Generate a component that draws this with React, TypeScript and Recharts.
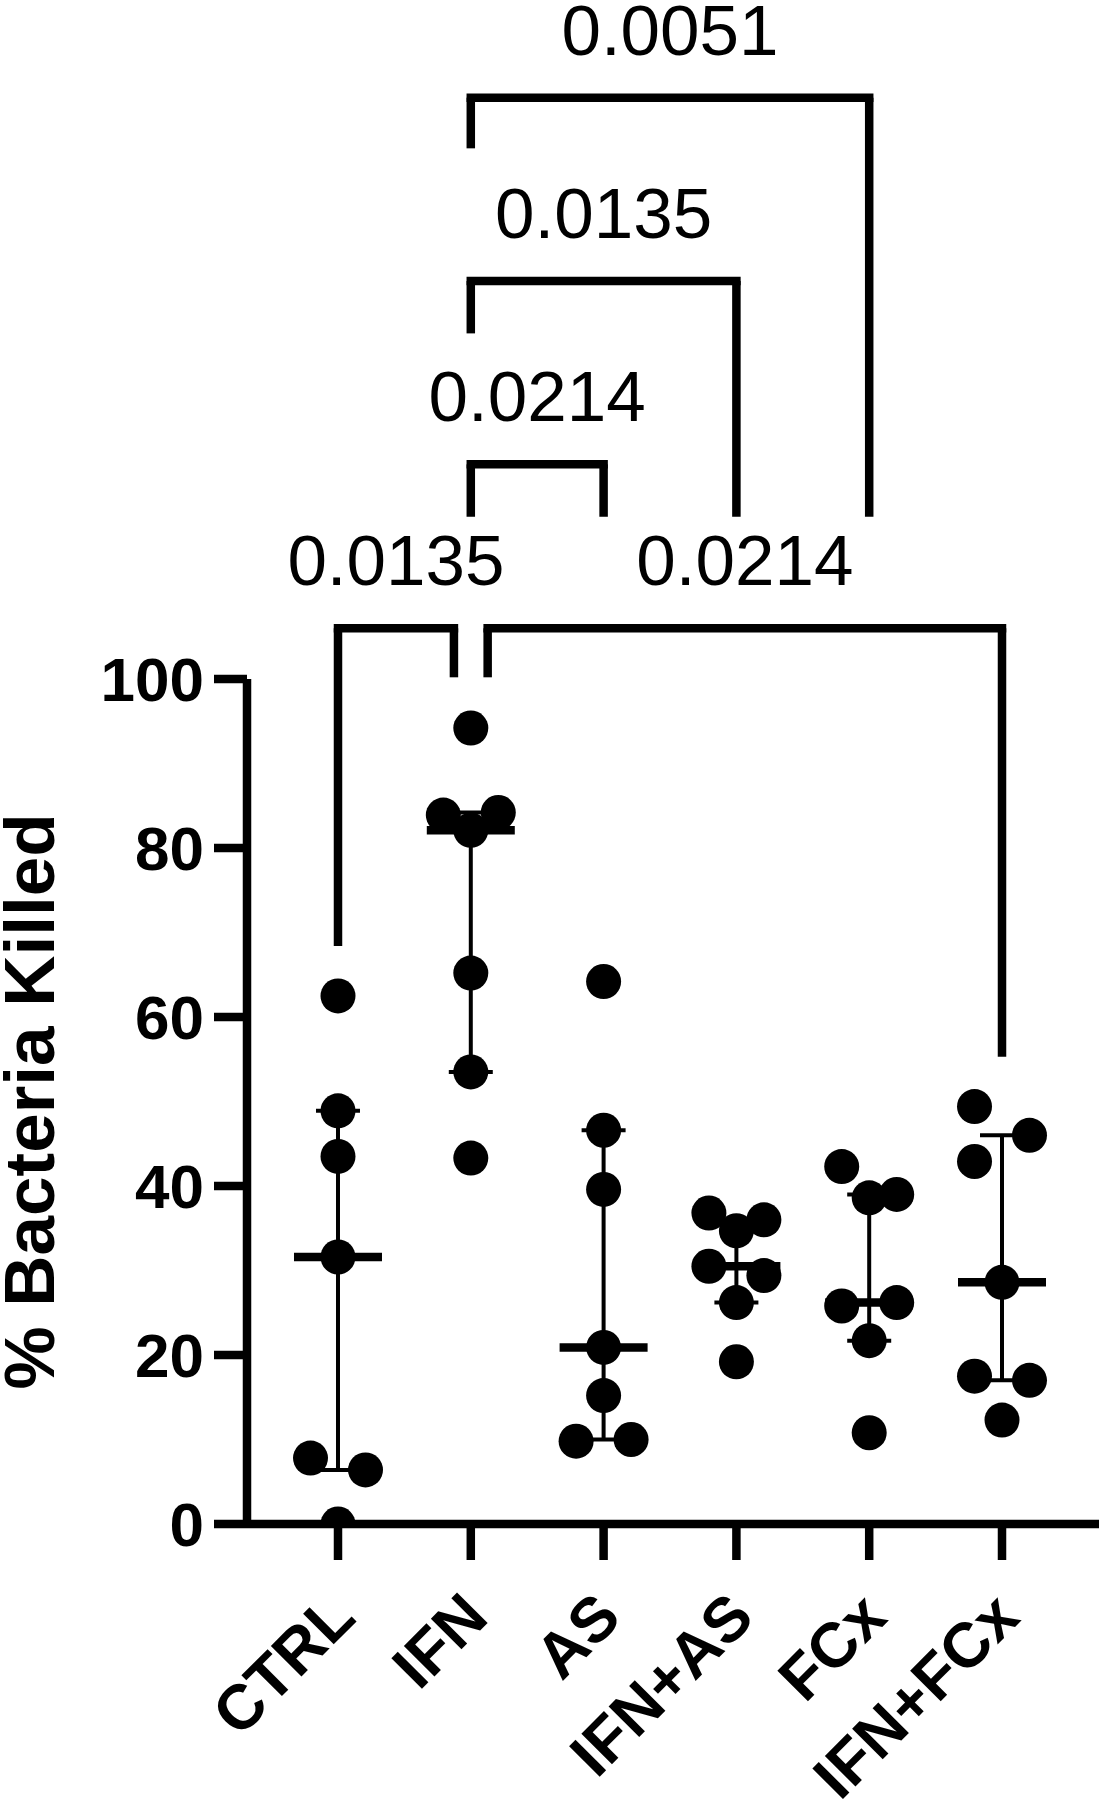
import { ScatterChart, Scatter, XAxis, YAxis, ErrorBar, ReferenceLine } from "recharts";

const FONT = "'Liberation Sans', Arial, sans-serif";

const groups = ["CTRL", "IFN", "AS", "IFN+AS", "FCx", "IFN+FCx"];

// % bacteria killed, one value per replicate
const ctrl = [62.5, 48.9, 43.5, 31.6, 7.8, 6.4, 0];
const ifn = [94.2, 83.9, 84.2, 82.1, 65.2, 53.5, 43.3];
const as = [64.2, 46.6, 39.6, 20.9, 15.2, 9.8, 10.0];
const ifnAs = [36.8, 36.0, 34.7, 30.5, 29.4, 26.2, 19.2];
const fcx = [42.3, 39.0, 38.6, 26.2, 25.8, 21.7, 10.8];
const ifnFcx = [49.4, 46.0, 42.9, 28.6, 17.5, 17.0, 12.3];

// scatter lane of each replicate (-1 left, 0 centre, 1 right)
const ctrlLane = [0, 0, 0, 0, -1, 1, 0];
const ifnLane = [0, -1, 1, 0, 0, 0, 0];
const asLane = [0, 0, 0, 0, 0, -1, 1];
const ifnAsLane = [-1, 1, 0, -1, 1, 0, 0];
const fcxLane = [-1, 1, 0, 1, -1, 0, 0];
const ifnFcxLane = [-1, 1, -1, 0, -1, 1, 0];

const yTicks = [0, 20, 40, 60, 80, 100];

// multiple comparisons: bracket height and leg ends in % units
const comparisons = [
  { from: "CTRL", to: "IFN", p: "0.0135", top: 106.0, fromEnd: 68.4, toEnd: 100.2, fromSide: 0, toSide: -1 },
  { from: "IFN", to: "IFN+FCx", p: "0.0214", top: 106.0, fromEnd: 100.2, toEnd: 55.3, fromSide: 1, toSide: 0 },
  { from: "IFN", to: "AS", p: "0.0214", top: 125.4, fromEnd: 119.2, toEnd: 119.2, fromSide: 0, toSide: 0 },
  { from: "IFN", to: "IFN+AS", p: "0.0135", top: 147.1, fromEnd: 140.9, toEnd: 119.2, fromSide: 0, toSide: 0 },
  { from: "IFN", to: "FCx", p: "0.0051", top: 168.8, fromEnd: 162.8, toEnd: 119.2, fromSide: 0, toSide: 0 },
];

const values = [ctrl, ifn, as, ifnAs, fcx, ifnFcx];
const lanes = [ctrlLane, ifnLane, asLane, ifnAsLane, fcxLane, ifnFcxLane];

const SPREAD = 0.207;
const NUDGE = 0.127;

// quartile as GraphPad does it: position p*(n+1), interpolated
function quantile(sorted: number[], p: number) {
  const pos = p * (sorted.length + 1) - 1;
  const lo = Math.max(0, Math.min(sorted.length - 1, Math.floor(pos)));
  const hi = Math.min(sorted.length - 1, lo + 1);
  const frac = pos - Math.floor(pos);
  return sorted[lo] + (sorted[hi] - sorted[lo]) * frac;
}

const points = values.flatMap((vals, gi) =>
  vals.map((v, k) => ({ x: gi + lanes[gi][k] * SPREAD, y: v }))
);

const summary = values.map((vals, gi) => {
  const s = [...vals].sort((a, b) => a - b);
  const med = quantile(s, 0.5);
  return { x: gi, y: med, iqr: [med - quantile(s, 0.25), quantile(s, 0.75) - med] };
});

function Dot(props: any) {
  return <circle cx={props.cx} cy={props.cy} r={17.5} fill="#000" />;
}

function MedianBar(props: any) {
  return (
    <line x1={props.cx - 44} x2={props.cx + 44} y1={props.cy} y2={props.cy} stroke="#000" strokeWidth={8.5} />
  );
}

function GroupTick(props: any) {
  const { x, y, payload } = props;
  const ax = x + 20;
  return (
    <text
      x={ax}
      y={y}
      transform={`rotate(-45, ${ax}, ${y})`}
      textAnchor="end"
      fill="#000"
      fontSize={63}
      fontWeight={700}
      fontFamily={FONT}
    >
      {groups[payload.value]}
    </text>
  );
}

const bracketLines = comparisons.flatMap((c, i) => {
  const x1 = groups.indexOf(c.from) + c.fromSide * NUDGE;
  const x2 = groups.indexOf(c.to) + c.toSide * NUDGE;
  const line = { stroke: "#000", strokeWidth: 8.5, ifOverflow: "visible" as const };
  return [
    <ReferenceLine key={`l${i}`} {...line} segment={[{ x: x1, y: c.fromEnd }, { x: x1, y: c.top }]} />,
    <ReferenceLine key={`r${i}`} {...line} segment={[{ x: x2, y: c.toEnd }, { x: x2, y: c.top }]} />,
    <ReferenceLine
      key={`t${i}`}
      {...line}
      strokeLinecap="square"
      segment={[{ x: x1, y: c.top }, { x: x2, y: c.top }]}
      label={{ value: c.p, position: "top", offset: 43, fill: "#000", fontSize: 71, fontFamily: FONT }}
    />,
  ];
});

export default function App() {
  return (
    <div style={{ position: "absolute", left: 0, top: 0, background: "#fff" }}>
      <ScatterChart width={1099} height={1800} margin={{ top: 679, right: 0, bottom: 0, left: 0 }}>
        <XAxis
          type="number"
          dataKey="x"
          domain={[-0.6852, 5.7304]}
          allowDataOverflow
          ticks={[0, 1, 2, 3, 4, 5]}
          interval={0}
          height={276}
          axisLine={{ stroke: "#000", strokeWidth: 8.5 }}
          tickLine={{ stroke: "#000", strokeWidth: 8.5 }}
          tickSize={36}
          tickMargin={60}
          tick={<GroupTick />}
        />
        <YAxis
          type="number"
          dataKey="y"
          domain={[0, 100]}
          allowDataOverflow
          ticks={yTicks}
          width={247}
          axisLine={{ stroke: "#000", strokeWidth: 8.5 }}
          tickLine={{ stroke: "#000", strokeWidth: 8.5 }}
          tickSize={33}
          tickMargin={10}
          tick={{ fill: "#000", fontSize: 62, fontWeight: 700, fontFamily: FONT }}
          label={{
            value: "% Bacteria Killed",
            angle: -90,
            position: "insideLeft",
            offset: 29,
            textAnchor: "middle",
            fill: "#000",
            fontSize: 71,
            fontWeight: 700,
            fontFamily: FONT,
          }}
        />
        <Scatter data={summary} shape={<MedianBar />} isAnimationActive={false}>
          <ErrorBar dataKey="iqr" direction="y" width={22} strokeWidth={4} stroke="#000" isAnimationActive={false} />
        </Scatter>
        <Scatter data={points} shape={<Dot />} isAnimationActive={false} />
        {bracketLines}
      </ScatterChart>
    </div>
  );
}
